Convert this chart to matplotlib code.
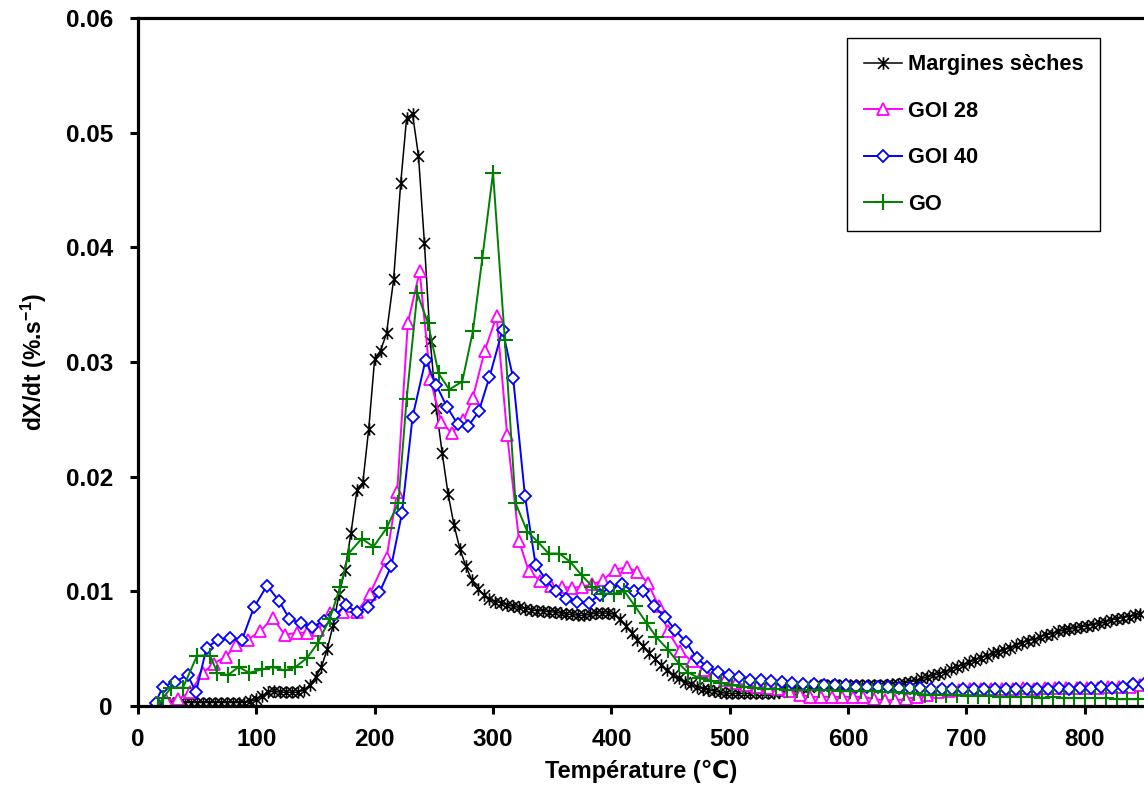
import matplotlib
matplotlib.use("Agg")
import matplotlib.pyplot as plt
from matplotlib.path import Path
from matplotlib.ticker import FuncFormatter, MultipleLocator

plt.rcParams["font.family"] = ["Liberation Sans", "DejaVu Sans"]
plt.rcParams["font.weight"] = "bold"
plt.rcParams["mathtext.fontset"] = "custom"
plt.rcParams["mathtext.bf"] = "Liberation Sans:bold"
plt.rcParams["mathtext.rm"] = "Liberation Sans:bold"

# --- data (temperature in degC, dX/dt in %.s-1) ---
T_ms = list(range(25, 215, 5)) + [216, 222] + list(range(227, 851, 5))
V_ms = [0.0003] * 14 + [
    0.0004, 0.0006, 0.0009, 0.0012, 0.0013, 0.0012, 0.0012, 0.0012, 0.0012, 0.0014,
    0.0018, 0.0025, 0.0034, 0.0050, 0.0071, 0.0098, 0.0119, 0.0151, 0.0188, 0.0195,
    0.0242, 0.0303, 0.0310, 0.0325,
    0.0372, 0.0456,
    0.0513, 0.0516, 0.0480, 0.0404, 0.0318, 0.0260, 0.0221, 0.0185, 0.0158, 0.0137,
    0.0122, 0.0110, 0.0102, 0.0097, 0.0093,
    0.0091, 0.0090, 0.0088, 0.0087, 0.0086, 0.0085, 0.0084, 0.0083, 0.0083, 0.0082,
    0.0082, 0.0081, 0.0080, 0.0080, 0.0079, 0.0079, 0.0080, 0.0081, 0.0081, 0.0081,
    0.0080, 0.0076, 0.0070, 0.0064, 0.0058, 0.0052, 0.0046, 0.0041, 0.0036, 0.0031,
    0.0027, 0.0024, 0.0021, 0.0019, 0.0017, 0.0015, 0.0014, 0.0013, 0.0012, 0.0011,
    0.0011, 0.0011, 0.0011, 0.0011, 0.0011, 0.0011, 0.0011, 0.0011, 0.0012, 0.0013,
    0.0014, 0.0015, 0.0016, 0.0017, 0.0018, 0.0018, 0.0018, 0.0018, 0.0018, 0.0018,
    0.0018, 0.0018, 0.0018, 0.0018, 0.0018, 0.0018, 0.0018, 0.0019, 0.0019, 0.0020,
    0.0021, 0.0022, 0.0024, 0.0025, 0.0027, 0.0028, 0.0030, 0.0032, 0.0034, 0.0036,
    0.0038, 0.0040, 0.0042, 0.0044, 0.0046, 0.0047, 0.0049, 0.0051, 0.0053, 0.0055,
    0.0057, 0.0058, 0.0060, 0.0062, 0.0063, 0.0065, 0.0066, 0.0067, 0.0068, 0.0069,
    0.0070, 0.0071, 0.0072, 0.0073, 0.0075, 0.0076, 0.0077, 0.0078, 0.0079, 0.0080,
]

T_goi28 = [13, 24, 34, 44, 55, 64, 74, 83, 93, 103,
           114, 124, 134, 143, 152, 162, 173, 185, 196, 210,
           219, 228, 238, 247, 256, 265, 275, 283, 293, 303,
           312, 322, 330, 340, 349, 358, 367, 375, 384, 393,
           403, 413, 422, 431, 440, 448, 458, 468, 478, 487,
           496, 505, 514, 523, 532, 541, 550, 559, 568, 577,
           586, 595, 604, 613, 622, 631, 640, 649, 658, 667,
           676, 685, 694, 703, 712, 721, 730, 739, 748, 757,
           766, 775, 784, 793, 802, 811, 820, 829, 838, 847]
V_goi28 = [0.0000, 0.0005, 0.0006, 0.0012, 0.0029, 0.0037, 0.0043, 0.0053, 0.0058, 0.0065,
           0.0077, 0.0062, 0.0064, 0.0064, 0.0066, 0.0081, 0.0082, 0.0082, 0.0098, 0.0129,
           0.0187, 0.0334, 0.0379, 0.0285, 0.0248, 0.0238, 0.0249, 0.0269, 0.0310, 0.0340,
           0.0236, 0.0144, 0.0118, 0.0109, 0.0105, 0.0104, 0.0103, 0.0104, 0.0106, 0.0110,
           0.0119, 0.0121, 0.0117, 0.0107, 0.0087, 0.0065, 0.0048, 0.0039, 0.0031, 0.0027,
           0.0023, 0.0020, 0.0018, 0.0017, 0.0016, 0.0015, 0.0013, 0.0010, 0.0008, 0.0008,
           0.0008, 0.0008, 0.0008, 0.0008, 0.0006, 0.0005, 0.0005, 0.0006, 0.0008, 0.0010,
           0.0012, 0.0013, 0.0014, 0.0015, 0.0015, 0.0015, 0.0015, 0.0015, 0.0016, 0.0015,
           0.0016, 0.0016, 0.0016, 0.0016, 0.0016, 0.0016, 0.0017, 0.0017, 0.0017, 0.0018]

T_goi40 = [15, 21, 31, 42, 49, 58, 68, 78, 88, 98,
           109, 119, 128, 138, 147, 157, 166, 176, 185, 194,
           204, 214, 223, 232, 243, 252, 261, 270, 279, 288,
           297, 308, 317, 327, 336, 345, 353, 362, 371, 381,
           390, 399, 409, 419, 427, 436, 445, 454, 463, 472,
           481, 490, 499, 508, 517, 526, 535, 544, 553, 562,
           571, 580, 589, 598, 607, 616, 625, 634, 643, 652,
           661, 670, 679, 688, 697, 706, 715, 724, 733, 742,
           751, 760, 769, 778, 787, 796, 805, 814, 823, 832,
           841, 850]
V_goi40 = [0.0003, 0.0017, 0.0021, 0.0027, 0.0012, 0.0051, 0.0058, 0.0059, 0.0058, 0.0086,
           0.0105, 0.0092, 0.0076, 0.0072, 0.0069, 0.0074, 0.0079, 0.0088, 0.0082, 0.0086,
           0.0099, 0.0122, 0.0168, 0.0252, 0.0302, 0.0280, 0.0261, 0.0246, 0.0244, 0.0257,
           0.0287, 0.0328, 0.0286, 0.0183, 0.0123, 0.0110, 0.0100, 0.0093, 0.0091, 0.0090,
           0.0097, 0.0104, 0.0106, 0.0100, 0.0100, 0.0087, 0.0078, 0.0066, 0.0056, 0.0042,
           0.0034, 0.0030, 0.0027, 0.0025, 0.0023, 0.0023, 0.0022, 0.0021, 0.0020, 0.0019,
           0.0019, 0.0018, 0.0018, 0.0018, 0.0017, 0.0017, 0.0017, 0.0017, 0.0016, 0.0016,
           0.0016, 0.0015, 0.0015, 0.0015, 0.0015, 0.0015, 0.0015, 0.0015, 0.0015, 0.0015,
           0.0015, 0.0015, 0.0015, 0.0016, 0.0015, 0.0016, 0.0016, 0.0017, 0.0016, 0.0017,
           0.0019, 0.0019]

T_go = [17, 21, 28, 38, 50, 61, 67, 76, 85, 94,
        105, 114, 124, 133, 143, 152, 162, 171, 178, 189,
        199, 210, 220, 227, 236, 245, 254, 263, 274, 283,
        291, 300, 310, 319, 329, 338, 347, 356, 365, 375,
        384, 393, 402, 411, 420, 430, 438, 448, 457, 465,
        475, 484, 493, 502, 512, 521, 530, 539, 548, 557,
        566, 575, 584, 593, 602, 611, 620, 629, 638, 647,
        656, 665, 674, 683, 692, 701, 710, 719, 728, 737,
        746, 755, 764, 773, 782, 791, 800, 809, 818, 827,
        836, 845]
V_go = [0.0000, 0.0007, 0.0016, 0.0016, 0.0044, 0.0044, 0.0029, 0.0027, 0.0034, 0.0029,
        0.0032, 0.0034, 0.0031, 0.0034, 0.0042, 0.0055, 0.0076, 0.0104, 0.0133, 0.0146,
        0.0139, 0.0155, 0.0177, 0.0268, 0.0360, 0.0334, 0.0290, 0.0276, 0.0283, 0.0327,
        0.0391, 0.0465, 0.0319, 0.0177, 0.0152, 0.0143, 0.0133, 0.0133, 0.0126, 0.0114,
        0.0104, 0.0098, 0.0098, 0.0100, 0.0087, 0.0072, 0.0060, 0.0049, 0.0037, 0.0029,
        0.0024, 0.0022, 0.0020, 0.0018, 0.0017, 0.0016, 0.0015, 0.0015, 0.0014, 0.0014,
        0.0014, 0.0014, 0.0014, 0.0013, 0.0013, 0.0013, 0.0013, 0.0012, 0.0012, 0.0011,
        0.0011, 0.0010, 0.0010, 0.0010, 0.0010, 0.0009, 0.0009, 0.0009, 0.0008, 0.0008,
        0.0008, 0.0008, 0.0007, 0.0008, 0.0007, 0.0007, 0.0007, 0.0007, 0.0007, 0.0006,
        0.0006, 0.0006]

# Excel-style star marker: an X with a vertical bar through it
star = Path([(-1, -1), (1, 1), (-1, 1), (1, -1), (0, -1.15), (0, 1.15)],
            [Path.MOVETO, Path.LINETO] * 3)

fig = plt.figure(figsize=(11.44, 7.87), dpi=100)
ax = fig.add_axes([0.1206, 0.1029, 0.8794, 0.8742])

ax.plot(T_ms, V_ms, color="black", lw=1.1, marker=star, ms=9, mew=1.2,
        label="Margines sèches")
ax.plot(T_goi28, V_goi28, color="#FF00FF", lw=1.4, marker="^", ms=8.5,
        mfc="white", mew=1.3, label="GOI 28")
ax.plot(T_goi40, V_goi40, color="#0000FF", lw=1.4, marker="D", ms=6.5,
        mfc="white", mew=1.3, label="GOI 40")
ax.plot(T_go, V_go, color="#008000", lw=1.4, marker="+", ms=11, mew=1.5,
        label="GO")

ax.set_xlim(0, 850)
ax.set_ylim(0, 0.06)
ax.xaxis.set_major_locator(MultipleLocator(100))
ax.yaxis.set_major_locator(MultipleLocator(0.01))
ax.yaxis.set_major_formatter(FuncFormatter(lambda v, p: "0" if abs(v) < 1e-9 else f"{v:.2f}"))

for side in ["left", "bottom", "top"]:
    ax.spines[side].set_linewidth(2.3)
ax.spines["right"].set_visible(False)
ax.tick_params(axis="both", direction="out", length=6, width=2.2, labelsize=17.5)
ax.tick_params(axis="y", pad=12)
ax.tick_params(axis="x", pad=10)

ax.set_xlabel("Température (℃)", fontsize=17, fontweight="bold", labelpad=6)
ax.set_ylabel(r"dX/dt (%.s$^{\mathbf{-1}}$)", fontsize=16.5, fontweight="bold", labelpad=12)

leg = ax.legend(loc="upper left", bbox_to_anchor=(0.705, 0.971), fontsize=15.7,
                frameon=True, fancybox=False, edgecolor="black", framealpha=1,
                handlelength=1.75, handletextpad=0.3, labelspacing=1.17,
                borderpad=0.75, borderaxespad=0)
leg.get_frame().set_linewidth(1.0)

fig.savefig("out.png", dpi=100)
